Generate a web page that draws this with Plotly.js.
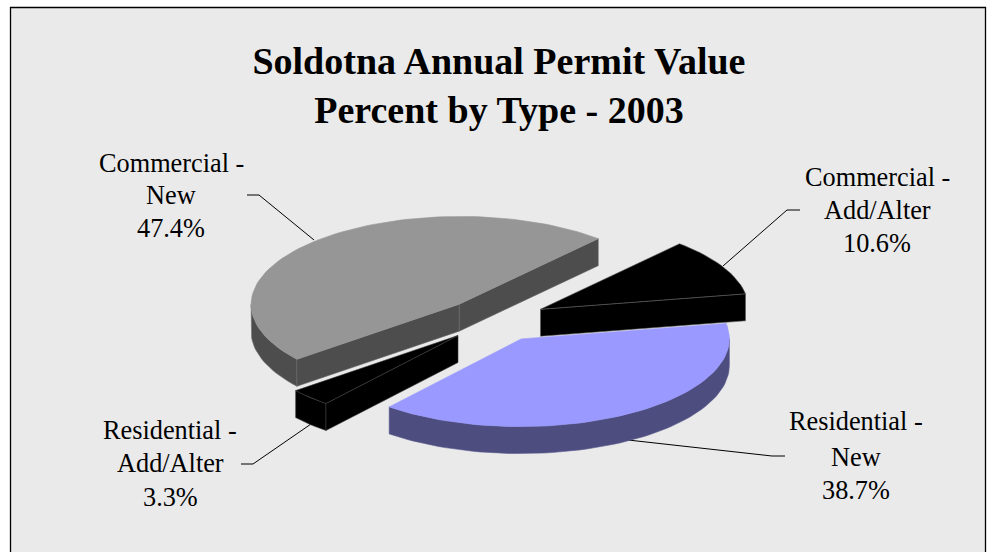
<!DOCTYPE html>
<html>
<head>
<meta charset="utf-8">
<script src="https://cdn.plot.ly/plotly-3.0.1.min.js"></script>
<style>html,body{margin:0;padding:0;background:#fff}#chart{width:991px;height:552px}</style>
</head>
<body>
<div id="chart"></div>
<script>
// Data
var categories = ["Commercial - New", "Commercial - Add/Alter", "Residential - New", "Residential - Add/Alter"];
var percents = [47.4, 10.6, 38.7, 3.3];
var labelLines = [["Commercial -", "New", "47.4%"], ["Commercial -", "Add/Alter", "10.6%"], ["Residential -", "New", "38.7%"], ["Residential -", "Add/Alter", "3.3%"]];
var topColors = ["#969696", "#000000", "#9999ff", "#000000"];
var wallColors = ["#4d4d4d", "#000000", "#4d4d80", "#000000"];
var edgeColors = ["#6a6a6a", "#5a5a5a", "#5c5c90", "#3a3a3a"];

// Projection of the tilted pie (pixel-space axes)
var center = [495, 320], e1 = [139, -65.5], e2 = [154.9, 58.3];
var explode = 0.25, depth = 27;
var FONT = "'Liberation Serif','Times New Roman',serif";

function proj(tDeg, r, off) {
  var t = tDeg * Math.PI / 180;
  return [off[0] + r * (e1[0] * Math.cos(t) + e2[0] * Math.sin(t)),
          off[1] + r * (e1[1] * Math.cos(t) + e2[1] * Math.sin(t))];
}
function poly(pts, fill, line, name) {
  return {type: "scatter", mode: "lines", x: pts.map(function (p) {return p[0];}), y: pts.map(function (p) {return p[1];}),
    fill: "toself", fillcolor: fill, line: {color: line, width: 0.6}, hoverinfo: "text", text: name, showlegend: false};
}
function arcPts(a, b, c) {
  var out = [], n = Math.max(6, Math.round((b - a) / 2));
  for (var k = 0; k <= n; k++) out.push(proj(a + (b - a) * k / n, 1, c));
  return out;
}

// Slices start at boundary t=0 and run through the values in this order
var order = [1, 2, 3, 0];
var cum = 0, ranges = {};
order.forEach(function (i) { var a = cum; cum += percents[i] * 3.6; ranges[i] = [a, cum]; });

// The rim faces the viewer between the ellipse's right and left extremes
var frontStart = Math.atan2(e2[0], e1[0]) * 180 / Math.PI, frontEnd = frontStart + 180;

// Leader lines
var leaders = [
  [[247, 195], [259, 195], [314, 240]],
  [[800, 210], [787, 210], [723, 266]],
  [[785, 456], [772, 456], [628, 440]],
  [[241, 464], [253, 464], [311, 424]]
];
var traces = [];
leaders.forEach(function (l) {
  traces.push({type: "scatter", mode: "lines", x: l.map(function (p) {return p[0];}), y: l.map(function (p) {return p[1];}),
    line: {color: "#000", width: 1}, hoverinfo: "skip", showlegend: false});
});

// A cut wall shows only when the slice's interior lies above its top edge
function faces(c, rim, inner) {
  var dx = rim[0] - c[0], dy = rim[1] - c[1];
  var yOnEdge = c[1] + dy * (inner[0] - c[0]) / dx;
  return inner[1] < yOnEdge;
}

[0, 1, 3, 2].forEach(function (i) {
  var a = ranges[i][0], b = ranges[i][1], mid = (a + b) / 2;
  var m = proj(mid, 1, [0, 0]);
  var c = [center[0] + explode * m[0], center[1] + explode * m[1]];
  var inner = [c[0] + 0.5 * m[0], c[1] + 0.5 * m[1]];
  var arc = arcPts(a, b, c), n = arc.length - 1;
  var down = function (p) { return [p[0], p[1] + depth]; };
  var fa = Math.max(a, frontStart), fb = Math.min(b, frontEnd);
  if (fb > fa) {
    var rim = arcPts(fa, fb, c);
    traces.push(poly(rim.concat(rim.map(down).reverse(), [rim[0]]), wallColors[i], edgeColors[i], categories[i]));
  }
  [arc[0], arc[n]].forEach(function (r) {
    if (faces(c, r, inner)) traces.push(poly([c, r, down(r), down(c), c], wallColors[i], edgeColors[i], categories[i]));
  });
  traces.push(poly([c].concat(arc, [c]), topColors[i], i === 0 || i === 2 ? topColors[i] : edgeColors[i], categories[i]));
});

var labelX = [171, 877, 856, 170];
var labelY = [[163, 195, 228], [177, 210, 243], [421, 457, 490], [430, 463, 497]];
var annotations = [];
labelLines.forEach(function (lines, i) {
  lines.forEach(function (txt, j) {
    annotations.push({text: txt, x: labelX[i], y: labelY[i][j], xref: "x", yref: "y", showarrow: false,
      xanchor: "center", yanchor: "middle", align: "center", font: {family: FONT, size: 26.3, color: "#000"}});
  });
});

var layout = {
  width: 991, height: 552,
  margin: {l: 0, r: 0, t: 0, b: 0},
  paper_bgcolor: "#ffffff", plot_bgcolor: "#ffffff",
  showlegend: false,
  title: {text: "<b>Soldotna Annual Permit Value<br>Percent by Type - 2003</b>", font: {family: FONT, size: 38, color: "#000"},
    x: 0.5035, xanchor: "center", y: 0.866, yanchor: "middle"},
  xaxis: {range: [0, 991], visible: false, fixedrange: true},
  yaxis: {range: [552, 0], visible: false, fixedrange: true},
  shapes: [{type: "rect", layer: "below", xref: "x", yref: "y", x0: 10.5, x1: 985.5, y0: 7.5, y1: 600,
    fillcolor: "#eaeaea", line: {color: "#000", width: 1.3}}],
  annotations: annotations
};
Plotly.newPlot("chart", traces, layout, {displayModeBar: false, staticPlot: true});
</script>
</body>
</html>
